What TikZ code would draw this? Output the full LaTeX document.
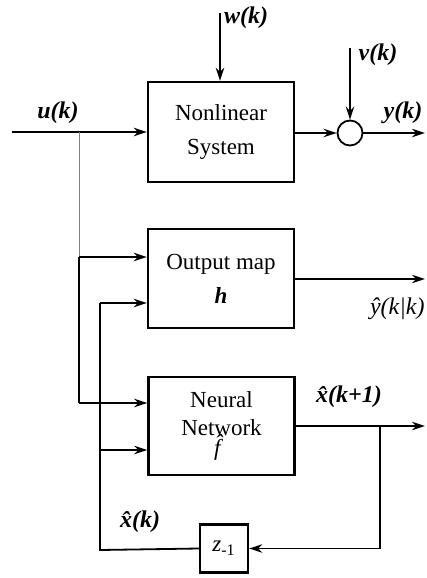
\documentclass[tikz,border=0pt]{standalone}
\usepackage{fontspec}
\setmainfont{Liberation Serif}
\usetikzlibrary{arrows.meta, positioning, calc}
\tikzset{
    block/.style={draw, line width=1.2pt, minimum width=73pt, minimum height=50pt,
        align=center, inner sep=0pt, font=\fontsize{11.5}{14}\selectfont},
    sig/.style={font=\fontsize{12}{14}\selectfont\bfseries\itshape},
    conn/.style={line width=0.9pt, -{Stealth[length=6.5pt, width=4.2pt]}},
    wire/.style={line width=0.9pt},
}

\begin{document}
\begin{tikzpicture}[x=0.5pt, y=-0.5pt]

\useasboundingbox (0,0) rectangle (427,578);

% Bloecke
\node[block] (nl) at (221,132) {Nonlinear\\[3pt]System};
\node[block, minimum height=49.5pt] (om) at (221,278.5) {Output map\\[3pt]\textbf{\textit{h}}};
\node[block, minimum height=49pt] (nn) at (221.5,426) {Neural\\Network\\[-4pt]\textit{\^{f}}};
\node[draw, line width=1.2pt, minimum size=24pt, inner sep=0pt] (z) at (224,548.5)
    {\fontsize{11.5}{14}\selectfont\textit{z}\textsubscript{-1}};

% Summationspunkt
\node[draw, circle, line width=0.9pt, minimum size=12.5pt, inner sep=0pt] (sum) at (350,133) {};

% Hilfspunkte
\coordinate (uin) at (12,132);
\coordinate (ub) at (79,132);
\coordinate (wtop) at (220,13);
\coordinate (vtop) at (350,48);
\coordinate (yout) at (425,133);
\coordinate (omout) at (425,279);
\coordinate (nnout) at (425,426);
\coordinate (xb) at (380,426);
\coordinate (a1) at (79,257);
\coordinate (a2) at (79,403);
\coordinate (b1) at (100,303);
\coordinate (b2) at (100,450);
\coordinate (xk) at (100,550);

% Verbindungen oben
\draw[conn] (uin) -- (nl.west);
\draw[conn] (wtop) -- (wtop |- nl.north);
\draw[conn] (nl.east |- sum) -- (sum.west);
\draw[conn] (vtop) -- (sum.north);
\draw[conn] (sum.east) -- (yout);

% Abzweig u(k)
\draw[gray, line width=0.5pt] (ub) -- (a1);
\draw[wire] (a1) -- (a2);
\draw[conn] (a1) -- (a1 -| om.west);
\draw[conn] (a2) -- (a2 -| nn.west);

% Rueckfuehrung x(k)
\draw[wire] (b1) -- (xk) -- (z.west);
\draw[conn] (b1) -- (b1 -| om.west);
\draw[conn] (b2) -- (b2 -| nn.west);

% Ausgaenge
\draw[conn] (om.east |- omout) -- (omout);
\draw[conn] (nn.east) -- (nnout);
\draw[conn] (xb) |- (z.east);

% Beschriftungen
\node[sig] (lu) at (58,113) {u(k)};
\node[sig] (lw) at (246,18) {w(k)};
\node[sig] (lv) at (378,55) {v(k)};
\node[sig] (ly) at (403,113) {y(k)};
\node[sig, font=\fontsize{12}{14}\selectfont\itshape, anchor=east, inner xsep=1pt] (lyh) at (427,309) {\^{y}(k|k)};
\node[sig] (lxn) at (349,397) {\^{x}(k+1)};
\node[sig] (lxk) at (140,522) {\^{x}(k)};

\end{tikzpicture}
\end{document}
